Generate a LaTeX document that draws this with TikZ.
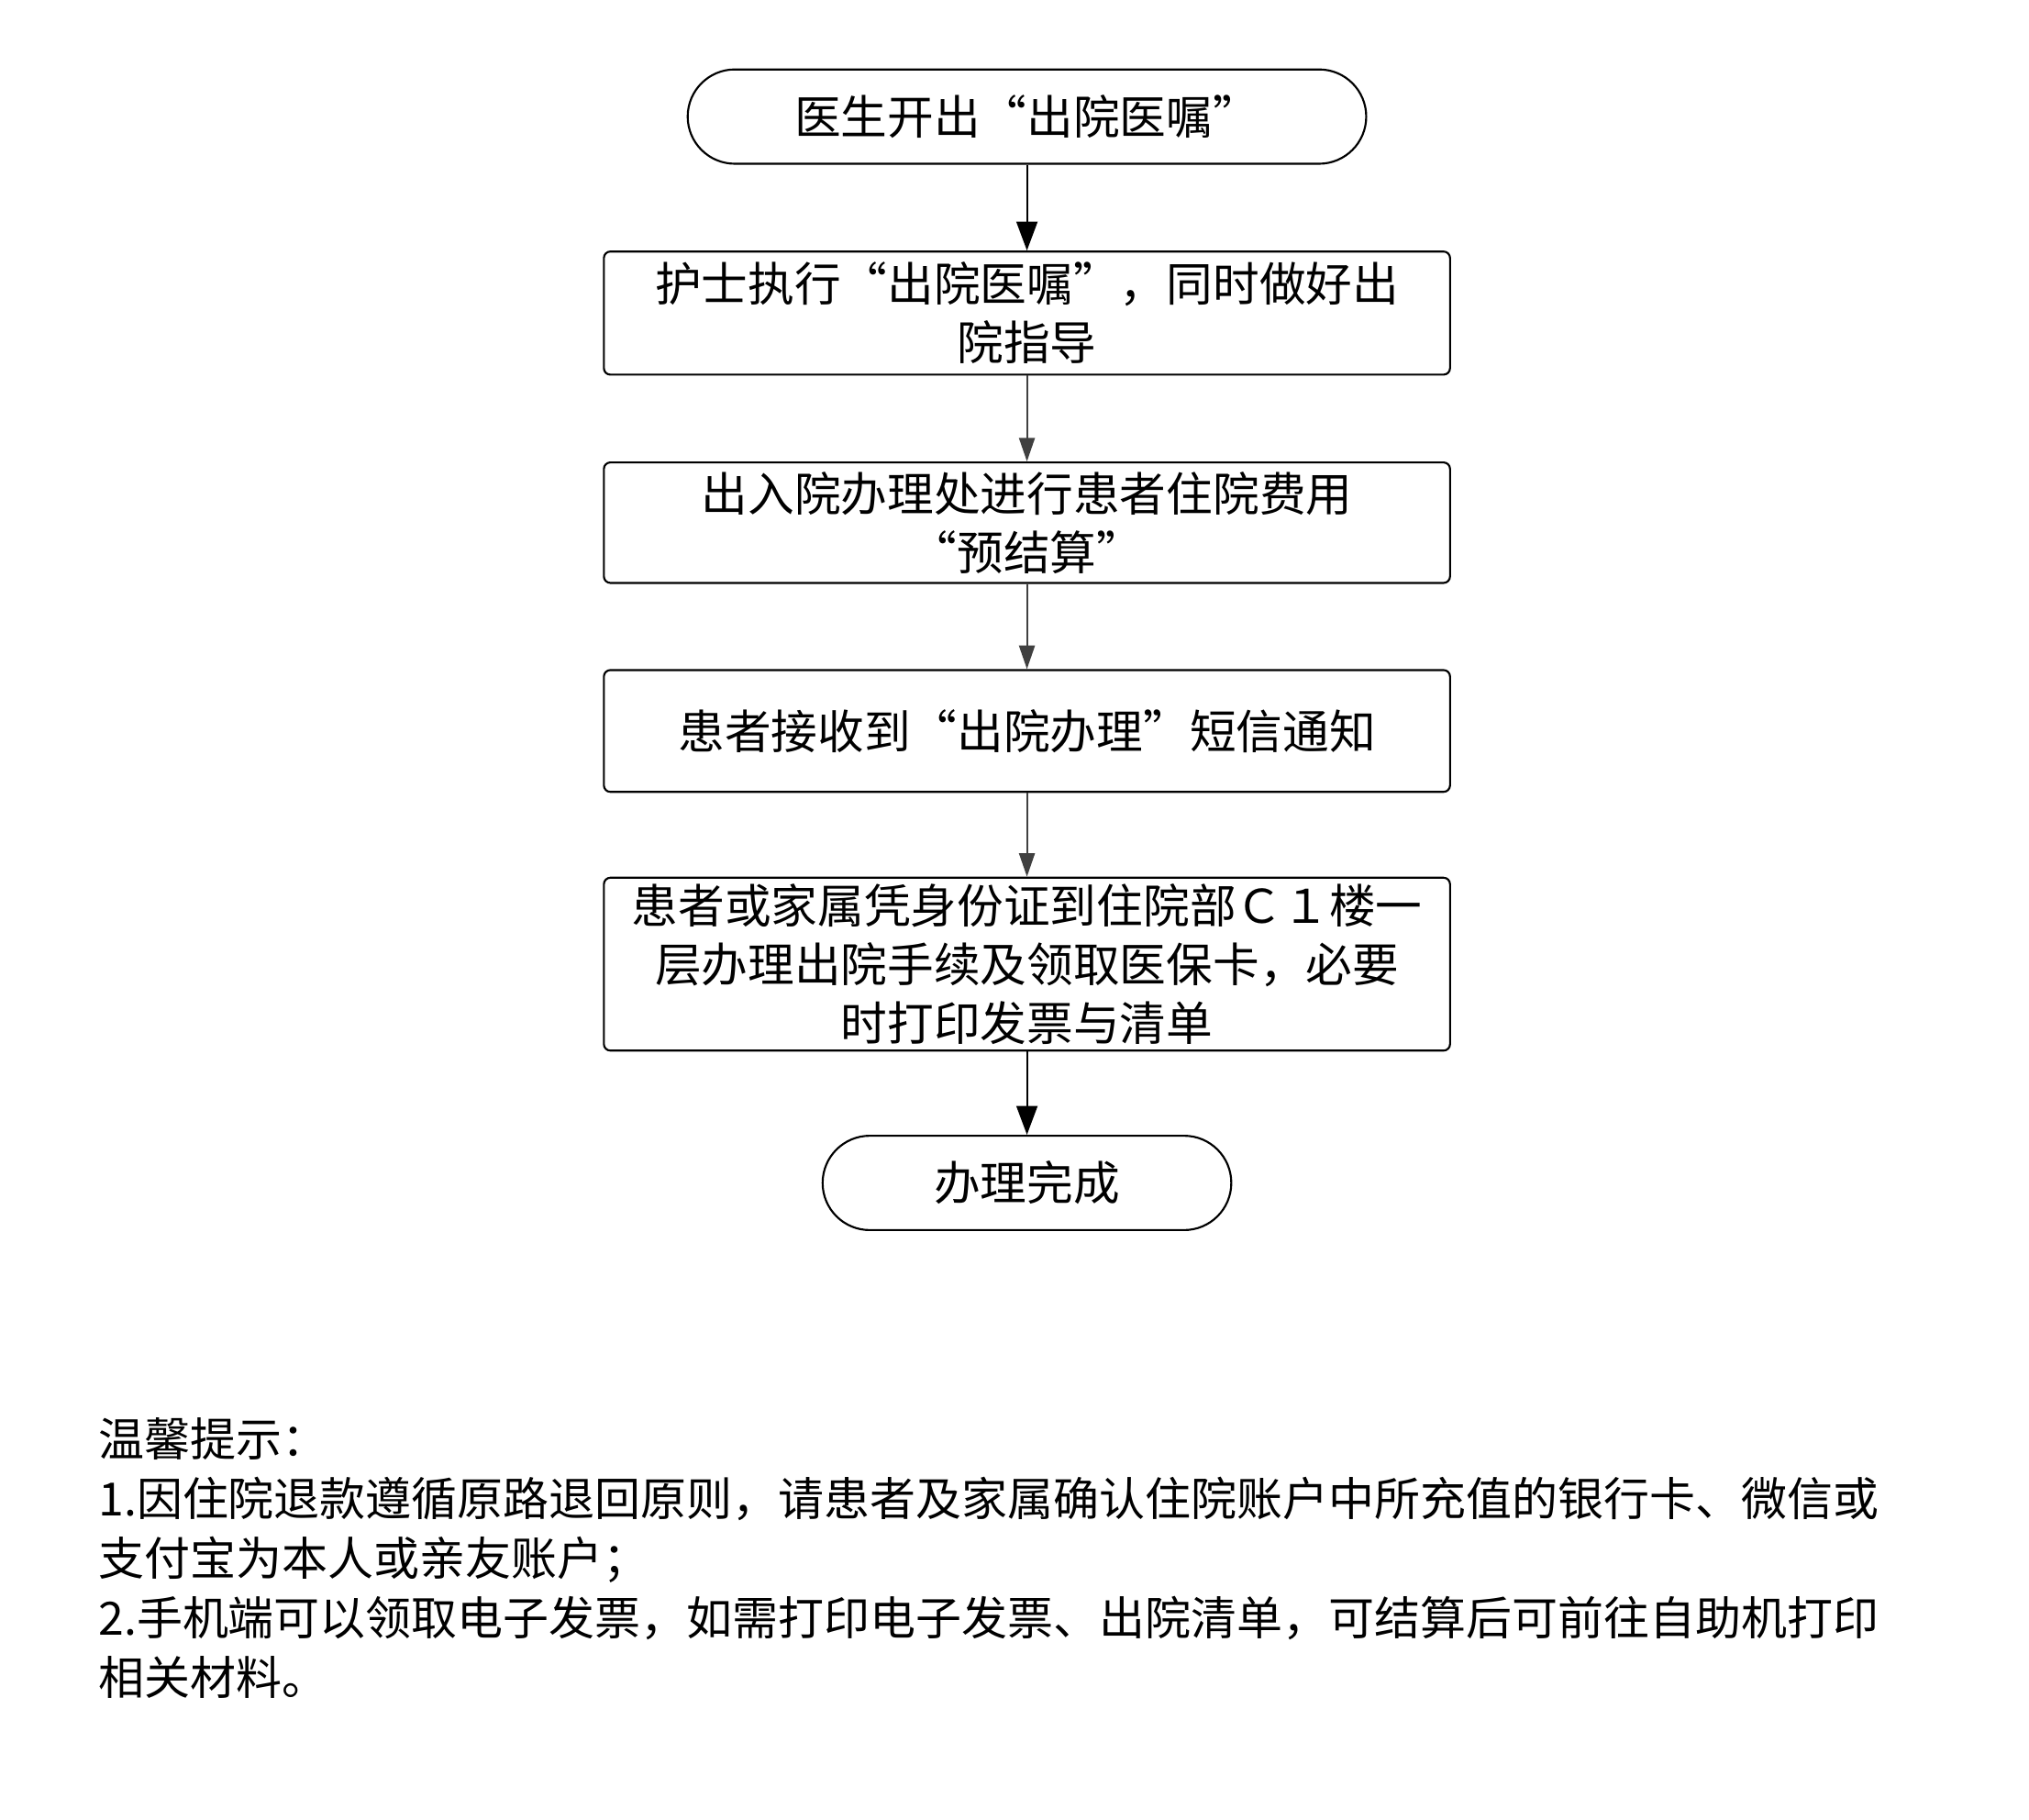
\documentclass[tikz,border=0pt]{standalone}
\usepackage{fontspec}
\setmainfont{Noto Sans CJK SC}
\usetikzlibrary{arrows.meta}
\begin{document}
\begin{tikzpicture}[x=1pt,y=-1pt,
  box/.style={draw,line width=1.5pt,rounded corners=5pt,minimum width=646pt,align=center,font=\fontsize{35.5}{45}\selectfont,inner sep=2pt},
  pill/.style={draw,line width=1.5pt,rounded corners=36pt,minimum height=72pt,font=\fontsize{35.5}{40}\selectfont},
  arr/.style={line width=1.5pt,-{Triangle[length=22pt,width=16pt]}},
  arrg/.style={line width=1.5pt,draw=black!75,-{Triangle[length=18pt,width=12pt]},color=black!75}]
\useasboundingbox (0,0) rectangle (1549,1389);
\node[pill,minimum width=518pt] (n1) at (784,89) {医生开出“出院医嘱”};
\node[box,minimum height=94pt] (n2) at (784,239) {护士执行“出院医嘱”，同时做好出\\院指导};
\node[box,minimum height=92pt] (n3) at (784,399) {出入院办理处进行患者住院费用\\“预结算”};
\node[box,minimum height=93pt] (n4) at (784,558) {患者接收到“出院办理”短信通知};
\node[box,minimum height=132pt] (n5) at (784,736) {患者或家属凭身份证到住院部Ｃ１楼一\\层办理出院手续及领取医保卡，必要\\时打印发票与清单};
\node[pill,minimum width=312pt] (n6) at (784,903) {办理完成};
\draw[arr] (n1) -- (n2);
\draw[arrg] (n2) -- (n3);
\draw[arrg] (n3) -- (n4);
\draw[arrg] (n4) -- (n5);
\draw[arr] (n5) -- (n6);
\node[anchor=north west,align=left,font=\fontsize{35}{45.5}\selectfont,text width=1450pt,inner sep=0pt] (tip) at (75,1082) {温馨提示：\\1.因住院退款遵循原路退回原则，请患者及家属确认住院账户中所充值的银行卡、微信或\\支付宝为本人或亲友账户；\\2.手机端可以领取电子发票，如需打印电子发票、出院清单，可结算后可前往自助机打印\\相关材料。};
\end{tikzpicture}
\end{document}
